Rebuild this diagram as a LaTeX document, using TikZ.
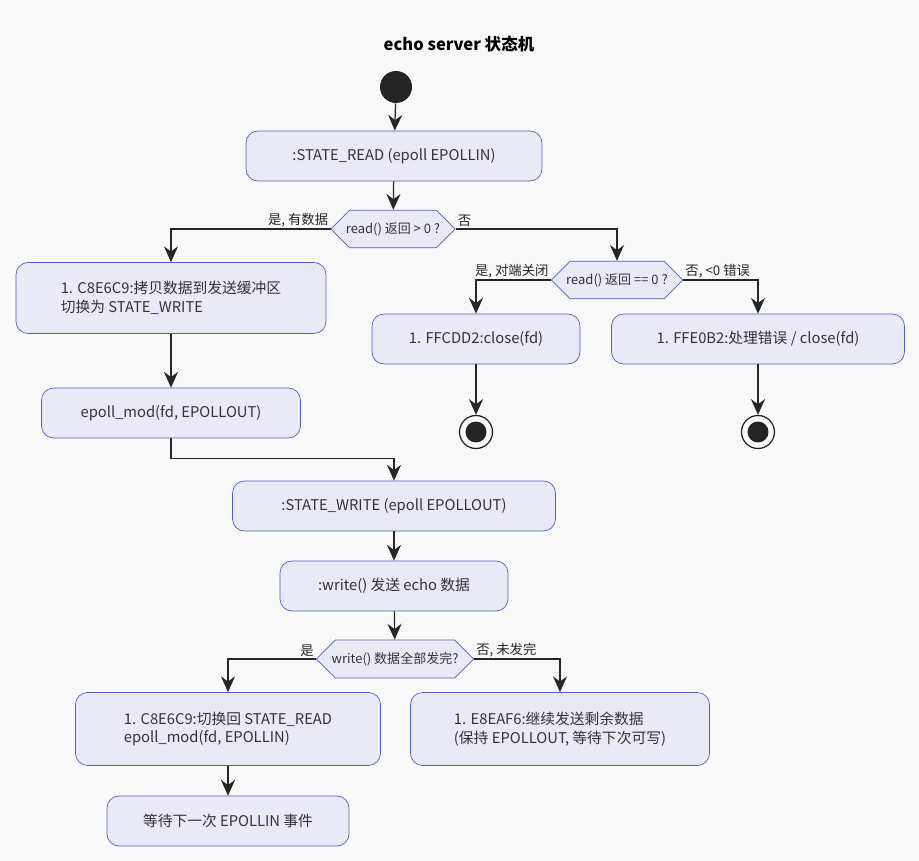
\documentclass[tikz,border=0pt]{standalone}
\usepackage{fontspec}
\setmainfont{Noto Sans CJK SC}
\usetikzlibrary{arrows.meta,shapes.misc}
\definecolor{bgcol}{HTML}{F9F9F9}
\definecolor{boxfill}{HTML}{E9EAF6}
\definecolor{boxline}{HTML}{4E5FC4}
\definecolor{txt}{HTML}{333333}
\tikzset{
  act/.style={draw=boxline,fill=boxfill,rounded corners=0.24cm,text=txt,
    font=\fontsize{8.4}{10.5}\selectfont,minimum height=1cm,inner xsep=0.3cm,align=left},
  cond/.style={chamfered rectangle,chamfered rectangle xsep=0.3cm,draw=boxline,fill=boxfill,
    text=txt,font=\fontsize{7.4}{9}\selectfont,minimum height=0.68cm,inner xsep=0.05cm},
  arr/.style={-{Stealth[length=9pt,width=8pt,inset=3pt]},line width=0.7pt,black!85},
  lbl/.style={font=\fontsize{7.6}{9}\selectfont,inner sep=1pt},
  startdot/.style={circle,fill=black!86,minimum size=0.64cm,inner sep=0},
  stopring/.style={circle,draw=black!86,line width=0.7pt,minimum size=0.66cm,inner sep=0},
  stopdot/.style={circle,fill=black!86,minimum size=0.42cm,inner sep=0},
}
\begin{document}
\begin{tikzpicture}[x=0.02cm,y=-0.02cm]
  \fill[bgcol] (0,0) rectangle (919,861);

  \node[font=\fontsize{9.4}{11}\selectfont\bfseries] (title) at (459,44) {echo server 状态机};
  \node[startdot] (start) at (396,87) {};

  % read path
  \node[act,minimum width=5.92cm] (read) at (394,156) {:STATE\_READ (epoll EPOLLIN)};
  \node[cond] (rok) at (393,229) {read() 返回 > 0 ?};
  \node[act,minimum width=6.2cm,minimum height=1.42cm] (copy) at (171,298)
    {1. C8E6C9:拷贝数据到发送缓冲区\\切换为 STATE\_WRITE};
  \node[act,minimum width=5.18cm] (modout) at (171,413) {epoll\_mod(fd, EPOLLOUT)};
  \node[cond] (rzero) at (617,280) {read() 返回 == 0 ?};
  \node[act,minimum width=4.16cm] (close) at (476,339) {1. FFCDD2:close(fd)};
  \node[act,minimum width=5.86cm] (err) at (758,339) {1. FFE0B2:处理错误 / close(fd)};
  \node[stopring] (stopa) at (476,432) {};
  \node[stopdot] at (stopa) {};
  \node[stopring] (stopb) at (758,432) {};
  \node[stopdot] at (stopb) {};

  % write path
  \node[act,minimum width=6.46cm] (write) at (394,506) {:STATE\_WRITE (epoll EPOLLOUT)};
  \node[act,minimum width=4.56cm] (send) at (394,586) {:write() 发送 echo 数据};
  \node[cond] (wdone) at (395,659) {write() 数据全部发完?};
  \node[act,minimum width=6.1cm,minimum height=1.46cm] (back) at (228,729)
    {1. C8E6C9:切换回 STATE\_READ\\epoll\_mod(fd, EPOLLIN)};
  \node[act,minimum width=5.98cm,minimum height=1.46cm] (rest) at (560,729)
    {1. E8EAF6:继续发送剩余数据\\(保持 EPOLLOUT, 等待下次可写)};
  \node[act,minimum width=4.84cm] (wait) at (228,821) {等待下一次 EPOLLIN 事件};

  \draw[arr] (start) -- (read);
  \draw[arr] (read) -- (rok);
  \draw[arr] (rok.west) node[lbl,anchor=south east] {是, 有数据} -| (copy);
  \draw[arr] (rok.east) node[lbl,anchor=south west] {否} -| (rzero);
  \draw[arr] (copy) -- (modout);
  \draw[arr] (rzero.west) node[lbl,anchor=south east] {是, 对端关闭} -| (close);
  \draw[arr] (rzero.east) node[lbl,anchor=south west] {否, <0 错误} -| (err);
  \draw[arr] (close) -- (stopa);
  \draw[arr] (err) -- (stopb);
  \draw[arr] (modout.south) -- ++(0,20) -| (write.north);
  \draw[arr] (write) -- (send);
  \draw[arr] (send) -- (wdone);
  \draw[arr] (wdone.west) node[lbl,anchor=south east] {是} -| (back);
  \draw[arr] (wdone.east) node[lbl,anchor=south west] {否, 未发完} -| (rest);
  \draw[arr] (back) -- (wait);
\end{tikzpicture}
\end{document}
